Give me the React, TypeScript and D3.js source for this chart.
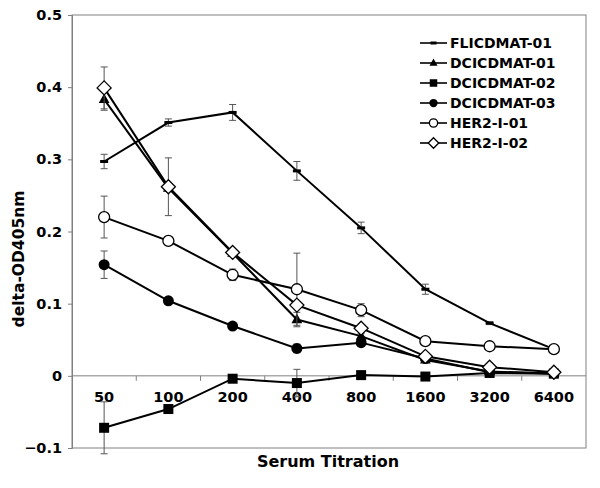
import React, { useEffect, useRef } from "react";
import * as d3 from "d3";

const titrations = ["50", "100", "200", "400", "800", "1600", "3200", "6400"];
const seriesNames = ["FLICDMAT-01", "DCICDMAT-01", "DCICDMAT-02", "DCICDMAT-03", "HER2-I-01", "HER2-I-02"];
const markers = ["dash", "triangle", "square", "circle", "openCircle", "diamond"];

const flicdmat01 = [0.297, 0.351, 0.365, 0.284, 0.205, 0.12, 0.073, 0.037];
const flicdmat01Err = [0.01, 0.005, 0.011, 0.013, 0.008, 0.007, 0.002, 0.001];
const dcicdmat01 = [0.383, 0.26, 0.17, 0.078, 0.055, 0.022, 0.006, 0.003];
const dcicdmat01Err = [0.015, 0, 0, 0.01, 0.004, 0.002, 0, 0];
const dcicdmat02 = [-0.072, -0.046, -0.004, -0.01, 0.001, -0.001, 0.004, 0.003];
const dcicdmat02Err = [0.036, 0.004, 0.003, 0.019, 0.004, 0.002, 0.001, 0.001];
const dcicdmat03 = [0.154, 0.104, 0.069, 0.038, 0.046, 0.024, 0.005, 0.004];
const dcicdmat03Err = [0.019, 0.005, 0.002, 0.006, 0.005, 0.002, 0.001, 0.001];
const her2i01 = [0.22, 0.187, 0.14, 0.12, 0.091, 0.048, 0.041, 0.037];
const her2i01Err = [0.029, 0.003, 0.008, 0.05, 0.009, 0.003, 0.002, 0.002];
const her2i02 = [0.399, 0.262, 0.171, 0.098, 0.066, 0.027, 0.012, 0.005];
const her2i02Err = [0.029, 0.04, 0.003, 0.004, 0.004, 0.002, 0.001, 0.001];

const seriesValues = [flicdmat01, dcicdmat01, dcicdmat02, dcicdmat03, her2i01, her2i02];
const seriesErrors = [flicdmat01Err, dcicdmat01Err, dcicdmat02Err, dcicdmat03Err, her2i01Err, her2i02Err];
const yTicks = [-0.1, 0, 0.1, 0.2, 0.3, 0.4, 0.5];

export default function App() {
  const svgRef = useRef(null);

  useEffect(() => {
    const width = 600, height = 488;
    const margin = { top: 15, right: 14, bottom: 40, left: 72 };
    const font = "'DejaVu Sans', Verdana, sans-serif";

    const svg = d3.select(svgRef.current)
      .attr("width", width)
      .attr("height", height);

    const x = d3.scaleBand()
      .domain(titrations)
      .range([margin.left, width - margin.right]);

    const y = d3.scaleLinear()
      .domain([-0.1, 0.5])
      .range([height - margin.bottom, margin.top]);

    // plot area border
    svg.append("rect")
      .attr("x", margin.left)
      .attr("y", margin.top)
      .attr("width", width - margin.right - margin.left)
      .attr("height", y(-0.1) - y(0.5))
      .attr("fill", "white")
      .attr("stroke", "#808080")
      .attr("stroke-width", 1);

    // Y axis
    const yAxis = svg.append("g")
      .attr("transform", `translate(${margin.left},0)`)
      .call(d3.axisLeft(y).tickValues(yTicks).tickSize(4).tickFormat(d => d === 0 ? "0" : d3.format(".1f")(d)));
    yAxis.select(".domain").attr("stroke", "#808080");
    yAxis.selectAll(".tick line").attr("stroke", "#808080");
    yAxis.selectAll(".tick text")
      .attr("x", -10)
      .attr("font-family", font)
      .attr("font-weight", "bold")
      .attr("font-size", 14.5)
      .attr("fill", "black");

    // X axis on the zero line
    const xAxis = svg.append("g")
      .attr("transform", `translate(0,${y(0)})`);
    xAxis.append("line")
      .attr("x1", margin.left)
      .attr("x2", width - margin.right)
      .attr("stroke", "#808080");
    xAxis.selectAll(".xt")
      .data(titrations.slice(1))
      .enter()
      .append("line")
      .attr("x1", d => x(d))
      .attr("x2", d => x(d))
      .attr("y1", 0)
      .attr("y2", 5)
      .attr("stroke", "#808080");
    xAxis.selectAll(".xl")
      .data(titrations)
      .enter()
      .append("text")
      .attr("x", d => x(d) + x.bandwidth() / 2)
      .attr("y", 26)
      .attr("text-anchor", "middle")
      .attr("font-family", font)
      .attr("font-weight", "bold")
      .attr("font-size", 14.5)
      .text(d => d);

    // axis titles
    svg.append("text")
      .attr("x", 328)
      .attr("y", 467)
      .attr("text-anchor", "middle")
      .attr("font-family", font)
      .attr("font-weight", "bold")
      .attr("font-size", 16)
      .text("Serum Titration");

    svg.append("text")
      .attr("transform", "rotate(-90)")
      .attr("x", -259)
      .attr("y", 24)
      .attr("text-anchor", "middle")
      .attr("font-family", font)
      .attr("font-weight", "bold")
      .attr("font-size", 15.5)
      .text("delta-OD405nm");

    const cx = (i) => x(titrations[i]) + x.bandwidth() / 2;

    function drawMarker(g, kind, px, py, s) {
      if (kind === "dash") {
        g.append("rect").attr("x", px - 4 * s).attr("y", py - 1.5).attr("width", 8 * s).attr("height", 3).attr("fill", "black");
      } else if (kind === "triangle") {
        const r = 6 * s;
        g.append("path")
          .attr("d", `M${px},${py - r}L${px + r * 0.9},${py + r * 0.6}L${px - r * 0.9},${py + r * 0.6}Z`)
          .attr("fill", "black");
      } else if (kind === "square") {
        const r = 5 * s;
        g.append("rect").attr("x", px - r).attr("y", py - r).attr("width", 2 * r).attr("height", 2 * r).attr("fill", "black");
      } else if (kind === "circle") {
        g.append("circle").attr("cx", px).attr("cy", py).attr("r", 5.5 * s).attr("fill", "black");
      } else if (kind === "openCircle") {
        g.append("circle").attr("cx", px).attr("cy", py).attr("r", 5.5 * s).attr("fill", "white").attr("stroke", "black").attr("stroke-width", 1.3);
      } else if (kind === "diamond") {
        const r = 7 * s;
        g.append("path")
          .attr("d", `M${px},${py - r}L${px + r},${py}L${px},${py + r}L${px - r},${py}Z`)
          .attr("fill", "white").attr("stroke", "black").attr("stroke-width", 1.3);
      }
    }

    const line = d3.line()
      .x((d, i) => cx(i))
      .y(d => y(d));

    seriesValues.forEach((vals, si) => {
      const g = svg.append("g");
      const errs = seriesErrors[si];
      // error bars
      vals.forEach((v, i) => {
        if (!errs[i]) return;
        const px = cx(i);
        g.append("line").attr("x1", px).attr("x2", px).attr("y1", y(v - errs[i])).attr("y2", y(v + errs[i])).attr("stroke", "#555");
        [v - errs[i], v + errs[i]].forEach(e => {
          g.append("line").attr("x1", px - 3.5).attr("x2", px + 3.5).attr("y1", y(e)).attr("y2", y(e)).attr("stroke", "#555");
        });
      });
      g.append("path")
        .datum(vals)
        .attr("d", line)
        .attr("fill", "none")
        .attr("stroke", "black")
        .attr("stroke-width", 2);
      vals.forEach((v, i) => drawMarker(g, markers[si], cx(i), y(v), 1));
    });

    // legend
    const legend = svg.append("g");
    seriesNames.forEach((name, i) => {
      const ly = 43 + i * 20;
      legend.append("line")
        .attr("x1", 420).attr("x2", 447)
        .attr("y1", ly).attr("y2", ly)
        .attr("stroke", "black").attr("stroke-width", 1.6);
      drawMarker(legend, markers[i], 433.5, ly, 0.75);
      legend.append("text")
        .attr("x", 450)
        .attr("y", ly + 5)
        .attr("font-family", font)
        .attr("font-weight", "bold")
        .attr("font-size", 14)
        .text(name);
    });

    return () => {
      svg.selectAll("*").remove();
    };
  }, []);

  return (
    <div style={{ position: "absolute", left: 0, top: 0 }}>
      <svg ref={svgRef}></svg>
    </div>
  );
}
